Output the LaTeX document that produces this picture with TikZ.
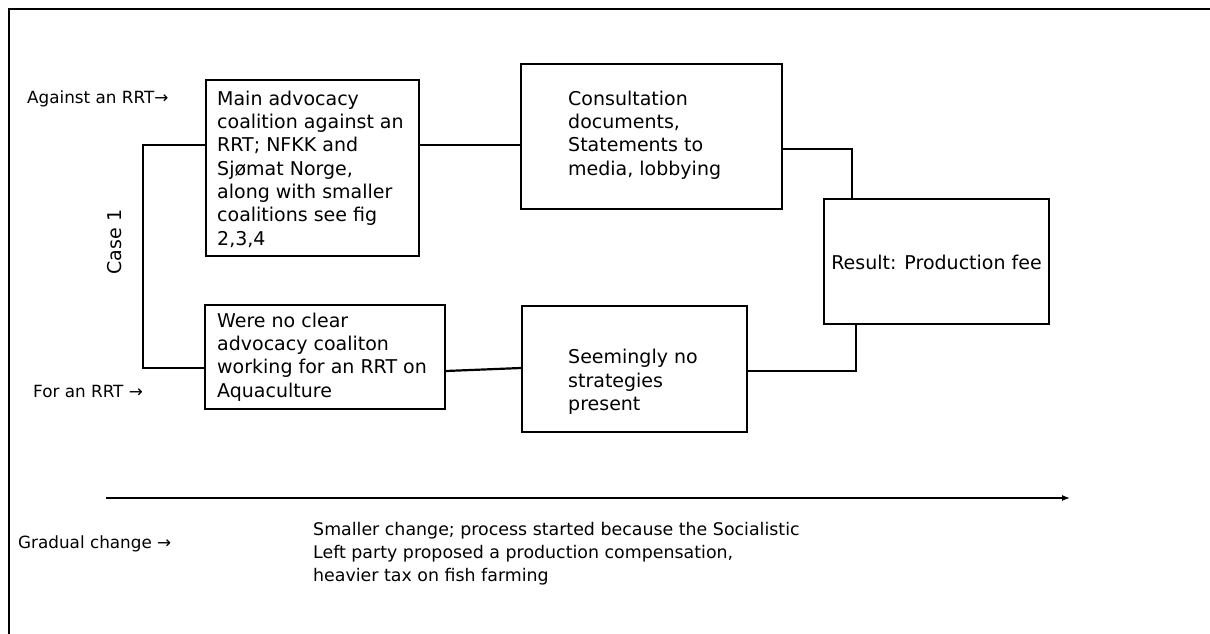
\documentclass[tikz,border=0pt]{standalone}
\usepackage{fontspec}
\setmainfont{DejaVu Sans}
\usetikzlibrary{arrows.meta}
\begin{document}
\begin{tikzpicture}[x=1pt,y=-1pt,
  box/.style={draw=black,line width=2.2pt,minimum width=#1,inner sep=0pt},
  boxtext/.style={anchor=west,align=left,inner sep=0pt,font=\fontsize{19}{23.3}\selectfont},
  smalltext/.style={anchor=base west,inner sep=0pt,font=\fontsize{16.8}{23}\selectfont},
  conn/.style={line width=2.2pt},
  timeline/.style={line width=1.3pt,-{Latex[length=8pt,width=6pt]}}]
\useasboundingbox (0,0) rectangle (1210,634);
\fill[white] (0,0) rectangle (1210,634);
% frame
\coordinate (f1) at (9,634);
\coordinate (f2) at (9,9);
\coordinate (f3) at (1212,9);
\draw[line width=2.2pt] (f1) -- (f2) -- (f3);

% boxes
\node[box=213pt,minimum height=176pt] (A) at (312.5,168) {};
\node[box=240pt,minimum height=104pt] (B) at (325,357) {};
\node[box=261pt,minimum height=145pt] (C) at (651.5,136.5) {};
\node[box=225pt,minimum height=126pt] (D) at (634.5,369) {};
\node[box=225pt,minimum height=125pt] (E) at (936.5,261.5) {};

% box texts
\node[boxtext] (tA) at (217,169) {Main advocacy\\coalition against an\\RRT; NFKK and\\Sjømat Norge,\\along with smaller\\coalitions see fig\\2,3,4};
\node[boxtext] (tB) at (217,357) {Were no clear\\advocacy coaliton\\working for an RRT on\\Aquaculture};
\node[boxtext] (tC) at (568,135) {Consultation\\documents,\\Statements to\\media, lobbying};
\node[boxtext] (tD) at (568,382) {Seemingly no\\strategies\\present};
\node[boxtext,anchor=center] (tE) at (936.5,262) {Result: Production fee};

% side labels
\node[smalltext] (l1) at (27,103) {Against an RRT→};
\node[smalltext] (l2) at (33,397) {For an RRT →};
\node[smalltext] (l3) at (18,548) {Gradual change →};
\node[inner sep=0pt,rotate=90,font=\fontsize{19}{23}\selectfont] (case) at (115,242) {Case 1};
\node[anchor=north west,align=left,inner sep=0pt,font=\fontsize{17.4}{23}\selectfont] (bottom) at (313,522.5)
  {Smaller change; process started because the Socialistic\\Left party proposed a production compensation,\\heavier tax on fish farming};

% connectors
\coordinate (bt) at (143,145);
\coordinate (bb) at (143,368);
\draw[conn] (bt -| A.west) -- (bt) -- (bb) -- (bb -| B.west);
\draw[conn] (bt -| A.east) -- (bt -| C.west);
\draw[conn] ([yshift=-14pt]B.east) -- ([yshift=1pt]D.west);
\coordinate (ce) at (852,149);
\draw[conn] (ce -| C.east) -- (ce) -- (ce |- E.north);
\coordinate (de) at (856,371);
\draw[conn] (de -| D.east) -- (de) -- (de |- E.south);

% timeline
\coordinate (ts) at (106,498);
\coordinate (te) at (1070,498);
\draw[timeline] (ts) -- (te);
\end{tikzpicture}
\end{document}
